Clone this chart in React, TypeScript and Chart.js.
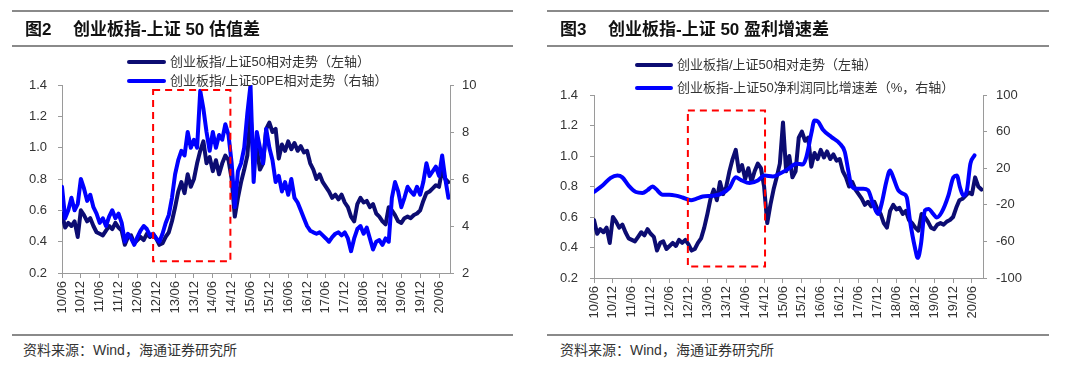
import React, { useEffect, useRef } from 'react';
import { Chart, registerables } from 'chart.js';

Chart.register(...registerables);

// ---------- data ----------
// x tick labels (every 6 months, starting 2010/06)
const xTickLabels = ['10/06','10/12','11/06','11/12','12/06','12/12','13/06','13/12','14/06','14/12','15/06','15/12','16/06','16/12','17/06','17/12','18/06','18/12','19/06','19/12','20/06'];
const xTickMonths = [0,6,12,18,24,30,36,42,48,54,60,66,72,78,84,90,96,102,108,114,120];

// 创业板指/上证50相对走势 (monthly, from 2010/06)
const relTrend = [
  0.58,0.49,0.52,0.50,0.53,0.43,0.60,0.57,0.53,0.55,
  0.50,0.46,0.45,0.44,0.47,0.50,0.48,0.52,0.49,0.47,
  0.38,0.43,0.44,0.39,0.41,0.43,0.41,0.45,0.43,0.45,
  0.42,0.38,0.39,0.43,0.46,0.53,0.62,0.72,0.78,0.71,
  0.83,0.75,0.80,0.90,0.98,1.04,0.90,0.94,0.85,0.92,
  0.83,0.90,0.95,0.92,0.80,0.56,0.68,0.78,0.86,0.95,
  1.22,0.90,1.00,0.86,0.90,1.12,1.16,1.10,1.12,0.93,
  1.02,0.98,1.04,0.99,1.03,0.98,1.01,0.97,0.98,0.90,
  0.86,0.80,0.83,0.78,0.75,0.72,0.68,0.70,0.67,0.70,
  0.65,0.62,0.56,0.53,0.64,0.68,0.65,0.66,0.62,0.64,
  0.58,0.56,0.53,0.51,0.62,0.60,0.57,0.53,0.52,0.55,
  0.56,0.55,0.57,0.58,0.60,0.66,0.71,0.72,0.74,0.76,
  0.75,0.86,0.80,0.78,
];

// 创业板指/上证50PE相对走势 (monthly, from 2010/06, right axis)
const peRelative = [
  5.67,4.33,4.67,5.20,4.67,4.93,6.00,5.60,5.07,5.33,
  4.80,4.53,4.13,4.33,4.00,4.40,4.67,4.33,4.53,4.13,
  3.33,3.67,3.47,3.20,3.53,3.80,4.00,3.87,3.60,3.67,
  3.47,3.33,3.67,4.13,4.47,5.20,6.20,6.80,7.20,7.00,
  8.00,7.33,7.67,7.33,9.75,9.00,8.00,7.20,8.00,7.33,
  7.87,7.67,8.33,7.87,6.67,4.80,6.33,6.67,7.33,8.80,
  10.0,5.87,8.00,7.33,6.67,8.13,7.33,6.80,5.87,6.13,
  5.47,5.87,5.33,6.00,5.20,5.00,4.67,4.33,4.00,3.80,
  3.73,3.67,3.73,3.60,3.47,3.33,3.53,3.67,3.73,3.60,
  3.73,3.47,2.93,3.47,3.87,4.00,3.67,3.93,3.47,3.00,
  3.33,3.40,3.20,3.47,3.33,5.20,5.87,5.47,4.80,5.20,
  5.67,5.47,5.33,5.67,5.33,5.87,6.67,6.13,6.33,6.53,
  6.13,7.00,6.00,5.20,
];

// 创业板指-上证50净利润同比增速差 (%, right axis); months after 2010/06
const growthMonth = [0,2.7,5.3,7.4,9,11,13.3,15.4,17,18.6,19.6,21.8,23.9,26,28.1,30.8,32.4,34.5,37.7,40.3,43,45,46.7,49.4,52,54.1,56.8,58.9,61.6,64.2,66.3,67.4,69,70,71.1,72.7,75.4,78,79.6,80.7,81.7,83.3,85.5,87,88.6,90.2,91.3,92.9,94,95,96.6,98.2,99.3,100.3,101.9,102.8,103.8,105.1,106.2,107.7,108.8,110.4,112.5,114.1,115.2,116.2,117.3,118.4,119.5,120.8];
const growthDiff = [-6,1,9.5,12,10,1,-6,-7,-4,0,-2.5,-9,-9,-10,-12,-15,-13.5,-11,-10,-8,-1.5,10,7,3.7,6.6,12,11,14,19,25,24,32,58,72,71,62,54,47,38,18,1,-2.5,-2.5,-4,-19,-30,-19,6.6,17.6,10,-4,-8,-12,-37,-67,-78,-63,-26,-24.5,-30,-34,-28,-10,10,12,-1,-10,-4,25,34];

const leftTicksA = [0.2,0.4,0.6,0.8,1.0,1.2,1.4];
const rightTicksA = [2,4,6,8,10];
const rightTicksB = [-100,-60,-20,20,60,100];

// highlighted periods (months after 2010/06, axis values)
const boxA = { from: 29, to: 53.6, low: 0.275, high: 1.368 };
const boxB = { from: 29.8, to: 54.3, low: 0.275, high: 1.298 };

// ---------- style ----------
const X_MAX = 123.5;
const DARK = '#0c0c72';
const BLUE = '#0000ff';
const AXIS = '#9a9a9a';
const TXT = '#333333';
const NUM_FONT = '"Liberation Sans", Arial, "Noto Sans CJK SC", sans-serif';
const CJK_FONT = '"Liberation Sans", "Noto Sans CJK SC", sans-serif';

function boxPlugin(box: { from: number; to: number; low: number; high: number }) {
  return {
    id: 'redBox',
    afterDatasetsDraw(chart: any) {
      const { ctx, scales } = chart;
      const x = scales.x;
      const y = scales.y;
      const x0 = x.getPixelForValue(box.from);
      const x1 = x.getPixelForValue(box.to);
      const y0 = y.getPixelForValue(box.high);
      const y1 = y.getPixelForValue(box.low);
      ctx.save();
      ctx.strokeStyle = '#ff0000';
      ctx.lineWidth = 2;
      ctx.setLineDash([7, 5]);
      ctx.strokeRect(x0, y0, x1 - x0, y1 - y0);
      ctx.restore();
    },
  };
}

function gridOpts(len: number) {
  return { display: true, drawOnChartArea: false, drawTicks: true, tickLength: len, color: AXIS, lineWidth: 1 };
}

function makeConfig(p: {
  darkSeries: { x: number; y: number }[];
  blueSeries: { x: number; y: number }[];
  blueSmooth: boolean;
  rightTicks: number[];
  leftWidth: number;
  rightWidth: number;
  xHeight: number;
  top: number;
  leftPad: number;
  rightPad: number;
  box: { from: number; to: number; low: number; high: number };
}) {
  return {
    type: 'line',
    data: {
      datasets: [
        {
          label: 'dark',
          data: p.darkSeries,
          yAxisID: 'y',
          borderColor: DARK,
          borderWidth: 4,
          pointRadius: 0,
          tension: 0,
          order: 1,
          borderJoinStyle: 'round',
          borderCapStyle: 'round',
        },
        {
          label: 'blue',
          data: p.blueSeries,
          yAxisID: 'y1',
          borderColor: BLUE,
          borderWidth: 4,
          pointRadius: 0,
          tension: 0,
          cubicInterpolationMode: p.blueSmooth ? 'monotone' : 'default',
          order: 0,
          borderJoinStyle: 'round',
          borderCapStyle: 'round',
        },
      ],
    },
    options: {
      responsive: false,
      animation: false,
      events: [],
      layout: { padding: { top: p.top, left: 0, right: 0, bottom: 0 } },
      plugins: { legend: { display: false }, tooltip: { enabled: false } },
      scales: {
        x: {
          type: 'linear',
          min: 0,
          max: X_MAX,
          afterBuildTicks: (s: any) => {
            s.ticks = xTickMonths.map((v) => ({ value: v }));
          },
          afterFit: (s: any) => {
            s.height = p.xHeight;
          },
          ticks: {
            autoSkip: false,
            maxRotation: 90,
            minRotation: 90,
            padding: 3,
            color: TXT,
            font: { family: NUM_FONT, size: 13 },
            callback: (_v: any, i: number) => xTickLabels[i],
          },
          grid: gridOpts(5),
          border: { display: true, color: AXIS, width: 1 },
        },
        y: {
          position: 'left',
          min: 0.2,
          max: 1.4,
          afterBuildTicks: (s: any) => {
            s.ticks = leftTicksA.map((v) => ({ value: v }));
          },
          afterFit: (s: any) => {
            s.width = p.leftWidth;
          },
          ticks: {
            padding: p.leftPad,
            color: TXT,
            font: { family: NUM_FONT, size: 13 },
            callback: (v: any) => Number(v).toFixed(1),
          },
          grid: gridOpts(4),
          border: { display: true, color: AXIS, width: 1 },
        },
        y1: {
          position: 'right',
          min: p.rightTicks[0],
          max: p.rightTicks[p.rightTicks.length - 1],
          afterBuildTicks: (s: any) => {
            s.ticks = p.rightTicks.map((v) => ({ value: v }));
          },
          afterFit: (s: any) => {
            s.width = p.rightWidth;
          },
          ticks: {
            padding: p.rightPad,
            color: TXT,
            font: { family: NUM_FONT, size: 13 },
            callback: (v: any) => String(v),
          },
          grid: gridOpts(4),
          border: { display: true, color: AXIS, width: 1 },
        },
      },
    },
    plugins: [boxPlugin(p.box)],
  } as any;
}

function ChartCanvas({ config, left }: { config: any; left: number }) {
  const ref = useRef<HTMLCanvasElement | null>(null);
  useEffect(() => {
    if (!ref.current) return;
    const chart = new Chart(ref.current, config);
    return () => chart.destroy();
  }, [config]);
  return (
    <canvas
      ref={ref}
      width={540}
      height={335}
      style={{ position: 'absolute', left, top: 0, width: 540, height: 335, display: 'block' }}
    />
  );
}

const darkPts = relTrend.map((v, i) => ({ x: i, y: v }));
const pePts = peRelative.map((v, i) => ({ x: i, y: v }));
const growthPts = growthDiff.map((v, i) => ({ x: growthMonth[i], y: v }));

const configA = makeConfig({
  darkSeries: darkPts,
  blueSeries: pePts,
  blueSmooth: false,
  rightTicks: rightTicksA,
  leftWidth: 62,
  rightWidth: 90,
  xHeight: 62,
  top: 85,
  leftPad: 11,
  rightPad: 8,
  box: boxA,
});

const configB = makeConfig({
  darkSeries: darkPts,
  blueSeries: growthPts,
  blueSmooth: true,
  rightTicks: rightTicksB,
  leftWidth: 54,
  rightWidth: 97,
  xHeight: 57,
  top: 95,
  leftPad: 12,
  rightPad: 9,
  box: boxB,
});

function Rule({ x1, x2, y }: { x1: number; x2: number; y: number }) {
  return <div style={{ position: 'absolute', left: x1, top: y, width: x2 - x1, height: 2, background: '#8a8a8a' }} />;
}

function LegendItem({ x, y, color, text, lineLen }: { x: number; y: number; color: string; text: string; lineLen: number }) {
  return (
    <div style={{ position: 'absolute', left: x, top: y - 9, height: 18, display: 'flex', alignItems: 'center', whiteSpace: 'nowrap' }}>
      <div style={{ width: lineLen, height: 4, background: color, borderRadius: 2 }} />
      <span style={{ marginLeft: 4, fontFamily: CJK_FONT, fontSize: 13, color: TXT, lineHeight: '18px' }}>{text}</span>
    </div>
  );
}

function Title({ x, gapX, num, text }: { x: number; gapX: number; num: string; text: string }) {
  const st: any = { position: 'absolute', top: 18, fontFamily: '"Liberation Sans", "Noto Sans CJK SC", sans-serif', fontWeight: 700, fontSize: 17, color: '#111', lineHeight: '24px', whiteSpace: 'nowrap' };
  return (
    <>
      <div style={{ ...st, left: x }}>{num}</div>
      <div style={{ ...st, left: gapX }}>{text}</div>
    </>
  );
}

function Source({ x }: { x: number }) {
  return (
    <div style={{ position: 'absolute', left: x, top: 340, fontFamily: CJK_FONT, fontSize: 14, color: TXT, lineHeight: '20px', whiteSpace: 'nowrap' }}>
      资料来源：Wind，海通证券研究所
    </div>
  );
}

export default function App() {
  return (
    <div style={{ position: 'absolute', left: 0, top: 0, width: 1080, height: 370, background: '#fff', overflow: 'hidden' }}>
      <ChartCanvas config={configA} left={0} />
      <ChartCanvas config={configB} left={540} />

      <Rule x1={12} x2={513} y={10} />
      <Rule x1={12} x2={513} y={45} />
      <Rule x1={12} x2={513} y={334} />
      <Rule x1={547} x2={1049} y={10} />
      <Rule x1={547} x2={1049} y={45} />
      <Rule x1={547} x2={1049} y={334} />

      <Title x={25} gapX={73} num="图2" text="创业板指-上证 50 估值差" />
      <Title x={560} gapX={608} num="图3" text="创业板指-上证 50 盈利增速差" />

      <LegendItem x={127} y={62} color={DARK} lineLen={39} text="创业板指/上证50相对走势（左轴）" />
      <LegendItem x={127} y={81} color={BLUE} lineLen={39} text="创业板指/上证50PE相对走势（右轴）" />
      <LegendItem x={635} y={65} color={DARK} lineLen={38} text="创业板指/上证50相对走势（左轴）" />
      <LegendItem x={635} y={88} color={BLUE} lineLen={38} text="创业板指-上证50净利润同比增速差（%，右轴）" />

      <Source x={23} />
      <Source x={560} />
    </div>
  );
}
